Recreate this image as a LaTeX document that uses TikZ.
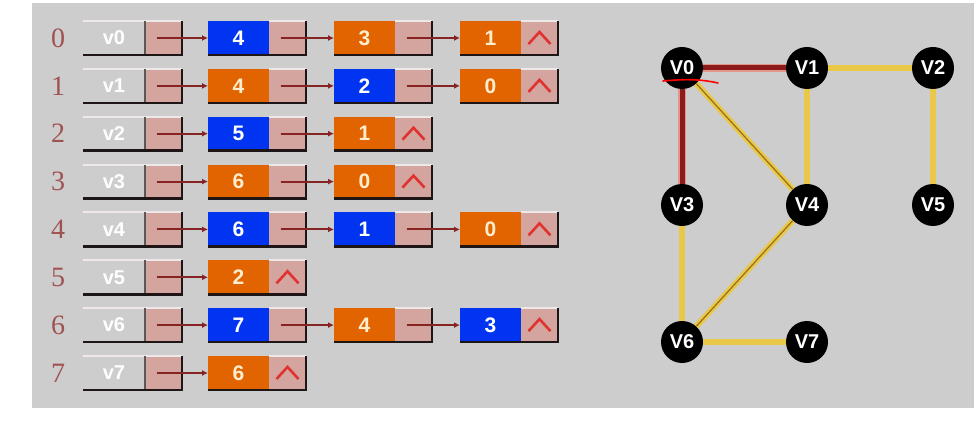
\documentclass[tikz,border=0pt]{standalone}
\usepackage{fontspec}
\setmainfont{Liberation Serif}
\setsansfont{Liberation Sans}
\usetikzlibrary{arrows.meta}
\definecolor{bggray}{RGB}{205,205,205}
\definecolor{cblue}{RGB}{0,52,240}
\definecolor{corange}{RGB}{226,100,0}
\definecolor{cpink}{RGB}{212,164,158}
\definecolor{cidx}{RGB}{160,82,82}
\definecolor{cptr}{RGB}{135,35,35}
\definecolor{ccaret}{RGB}{225,50,50}
\definecolor{ccream}{RGB}{255,238,205}
\definecolor{cedgey}{RGB}{232,200,70}
\definecolor{cedgeyd}{RGB}{150,110,30}
\definecolor{cedger}{RGB}{140,28,28}
\definecolor{cedgerl}{RGB}{225,150,140}
\definecolor{clight}{RGB}{238,232,232}
\definecolor{cdark}{RGB}{30,22,22}
\tikzset{
  idx/.style={font=\fontsize{28}{28}\selectfont, text=cidx, inner sep=0pt},
  vcell/.style={rectangle, minimum width=62pt, minimum height=34pt, inner sep=0pt, outer sep=0pt,
    text=white, font=\sffamily\bfseries\fontsize{20}{20}\selectfont},
  pcell/.style={rectangle, fill=cpink, minimum width=37pt, minimum height=34pt, inner sep=0pt, outer sep=0pt},
  dcell/.style={rectangle, minimum width=61pt, minimum height=34pt, inner sep=0pt, outer sep=0pt,
    font=\sffamily\bfseries\fontsize{21}{21}\selectfont},
  bluecell/.style={dcell, fill=cblue, text=white},
  orangecell/.style={dcell, fill=corange, text=ccream},
  lightedge/.style={draw=clight, line width=2pt},
  gridedge/.style={draw=gray!70!black, line width=1.2pt},
  darkedge/.style={draw=cdark, line width=2.5pt, line join=miter},
  ptr/.style={draw=cptr, line width=2pt, -{Latex[length=6pt,width=6pt]}},
  caret/.style={draw=ccaret, line width=2.6pt},
  gnode/.style={circle, fill=black, minimum size=42pt, inner sep=0pt, text=white,
    font=\sffamily\bfseries\fontsize{20}{20}\selectfont},
  yedge/.style={draw=cedgey, line width=6pt},
  ydouble/.style={draw=cedgey, line width=6pt, postaction={draw=cedgeyd, line width=1.2pt}},
  redge/.style={draw=cedgerl, line width=8pt, postaction={draw=cedger, line width=5pt}},
}
\newcommand\headrow[2]{%
  \node[idx] (i#1) at (58,#2) {#1};
  \node[vcell, anchor=west] (v#1) at (83,#2) {v#1};
  \node[pcell, anchor=west] (h#1) at (v#1.east) {};
  \draw[lightedge] (v#1.north west) -- (h#1.north east);
  \draw[gridedge] (h#1.north west) -- (h#1.south west);
  \draw[darkedge] (v#1.south west) -- (h#1.south east) -- (h#1.north east);
}
\newcommand\dnode[5]{%
  \node[#4cell, anchor=west] (#1) at (#2,#3) {#5};
  \node[pcell, anchor=west] (#1p) at (#1.east) {};
  \draw[lightedge] (#1p.north west) -- (#1p.north east);
  \draw[darkedge] (#1.south west) -- (#1p.south east) -- (#1p.north east);
}
\newcommand\lnk[2]{\draw[ptr] ([shift={(-7,0)}]#1.center) -- (#2.west);}
\newcommand\nullmark[1]{\draw[caret] ([shift={(-11,6)}]#1.center) -- ([shift={(0,-6)}]#1.center) -- ([shift={(11,6)}]#1.center);}
\begin{document}
\begin{tikzpicture}[x=1pt,y=-1pt]
\useasboundingbox (0,0) rectangle (974,430);
\fill[white] (0,0) rectangle (974,430);
\fill[bggray] (32,3) rectangle (974,408);
% row 0
\headrow{0}{38}
\dnode{a0}{208}{38}{blue}{4}
\dnode{a1}{334}{38}{orange}{3}
\dnode{a2}{460}{38}{orange}{1}
\lnk{h0}{a0}\lnk{a0p}{a1}\lnk{a1p}{a2}\nullmark{a2p}
% row 1
\headrow{1}{85.9}
\dnode{b0}{208}{85.9}{orange}{4}
\dnode{b1}{334}{85.9}{blue}{2}
\dnode{b2}{460}{85.9}{orange}{0}
\lnk{h1}{b0}\lnk{b0p}{b1}\lnk{b1p}{b2}\nullmark{b2p}
% row 2
\headrow{2}{133.7}
\dnode{c0}{208}{133.7}{blue}{5}
\dnode{c1}{334}{133.7}{orange}{1}
\lnk{h2}{c0}\lnk{c0p}{c1}\nullmark{c1p}
% row 3
\headrow{3}{181.6}
\dnode{d0}{208}{181.6}{orange}{6}
\dnode{d1}{334}{181.6}{orange}{0}
\lnk{h3}{d0}\lnk{d0p}{d1}\nullmark{d1p}
% row 4
\headrow{4}{229.4}
\dnode{e0}{208}{229.4}{blue}{6}
\dnode{e1}{334}{229.4}{blue}{1}
\dnode{e2}{460}{229.4}{orange}{0}
\lnk{h4}{e0}\lnk{e0p}{e1}\lnk{e1p}{e2}\nullmark{e2p}
% row 5
\headrow{5}{277.3}
\dnode{f0}{208}{277.3}{orange}{2}
\lnk{h5}{f0}\nullmark{f0p}
% row 6
\headrow{6}{325.1}
\dnode{g0}{208}{325.1}{blue}{7}
\dnode{g1}{334}{325.1}{orange}{4}
\dnode{g2}{460}{325.1}{blue}{3}
\lnk{h6}{g0}\lnk{g0p}{g1}\lnk{g1p}{g2}\nullmark{g2p}
% row 7
\headrow{7}{373}
\dnode{k0}{208}{373}{orange}{6}
\lnk{h7}{k0}\nullmark{k0p}
% graph
\node[gnode] (V0) at (682,68) {V0};
\node[gnode] (V1) at (807,68) {V1};
\node[gnode] (V2) at (933,68) {V2};
\node[gnode] (V3) at (682,205) {V3};
\node[gnode] (V4) at (807,205) {V4};
\node[gnode] (V5) at (933,205) {V5};
\node[gnode] (V6) at (682,342) {V6};
\node[gnode] (V7) at (807,342) {V7};
\draw[redge] (V0) -- (V1);
\draw[redge] (V0) -- (V3);
\draw[ydouble] (V0) -- (V4);
\draw[ydouble] (V4) -- (V6);
\draw[yedge] (V1) -- (V2);
\draw[yedge] (V1) -- (V4);
\draw[yedge] (V2) -- (V5);
\draw[yedge] (V3) -- (V6);
\draw[yedge] (V6) -- (V7);
\coordinate (m1) at (663,81);
\coordinate (m2) at (718,83);
\draw[red, line width=1.6pt, line cap=round] (m1) .. controls (685,79) and (700,79) .. (m2);
\end{tikzpicture}
\end{document}
